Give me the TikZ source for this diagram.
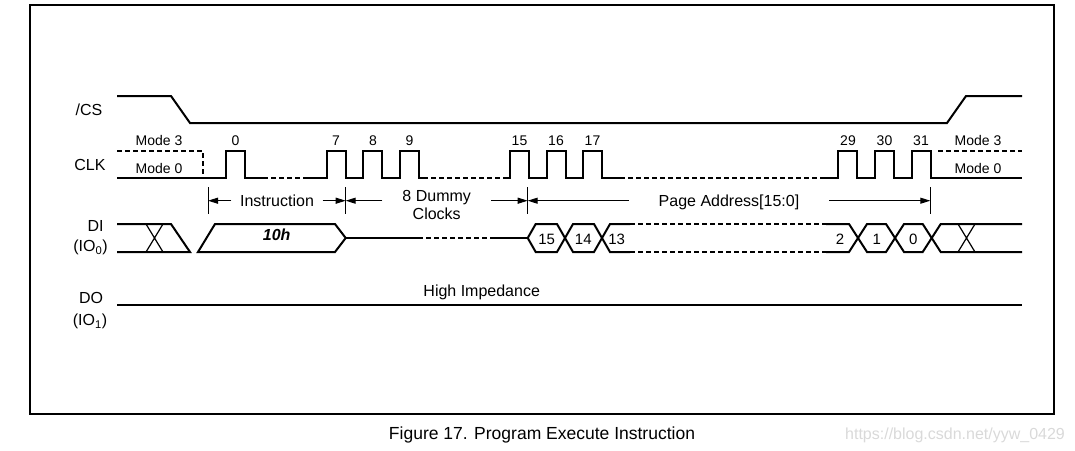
\documentclass[tikz,border=0pt]{standalone}
\usepackage{fontspec}
\setmainfont{Liberation Sans}
\usetikzlibrary{arrows.meta}

\begin{document}
\begin{tikzpicture}[
        x=1pt, y=-1pt,
        sig/.style={line width=2pt},
        dsig/.style={sig, dash pattern=on 5pt off 3pt},
        xline/.style={line width=1.2pt},
        dim/.style={line width=1pt, ->},
        tick/.style={line width=1pt},
        lbl/.style={font=\fontsize{16}{19}\selectfont},
        mode/.style={font=\fontsize{14}{16}\selectfont, anchor=base},
        num/.style={font=\fontsize{14}{16}\selectfont, anchor=base},
        busnum/.style={font=\fontsize{15}{17}\selectfont, anchor=base},
        >={Triangle[length=10pt,width=6pt]},
      ]
        \useasboundingbox (0,0) rectangle (1075,450);
        \draw[line width=2.4pt] (30,5) rectangle (1054,414);

        \node[lbl, anchor=base] (cs)    at (89,115)    {/CS};
        \node[lbl, anchor=base] (clk)   at (90,170.7)  {CLK};
        \node[lbl, anchor=base] (di)    at (95.5,231.7) {DI};
        \node[lbl, anchor=base] (dinum) at (90.5,251.5) {(IO\textsubscript{0})};
        \node[lbl, anchor=base] (do)    at (91,303.3)  {DO};
        \node[lbl, anchor=base] (donum) at (90,325.5)  {(IO\textsubscript{1})};

        \node[mode] (modeA) at (159,145)   {Mode 3};
        \node[mode] (modeB) at (159,173.3) {Mode 0};
        \node[mode] (modeC) at (978,145)   {Mode 3};
        \node[mode] (modeD) at (978,173.3) {Mode 0};

        \foreach \x/\n in {235.5/0, 336/7, 373/8, 409.5/9, 519.5/15, 556/16, 592.5/17, 848/29, 884.5/30, 921/31}
          \node[num] (c\n) at (\x,145) {\n};

        % /CS
        \draw[sig] (117,96) -- (171,96) -- (190,123) -- (947,123) -- (966,96) -- (1022,96);

        % CLK
        \draw[dsig] (117,151) -- (203,151) -- (203,178);
        \draw[dsig] (938,151) -- (1022,151);
        \draw[sig] (117,178) foreach \x in {226} {-- (\x,178) -- ++(0,-27) -- ++(19,0) -- ++(0,27)} -- (263,178);
        \draw[sig] (308,178) foreach \x in {326.7,363.3,400} {-- (\x,178) -- ++(0,-27) -- ++(19,0) -- ++(0,27)} -- (423,178);
        \draw[sig] (506,178) foreach \x in {510,546.5,583} {-- (\x,178) -- ++(0,-27) -- ++(19,0) -- ++(0,27)} -- (620,178);
        \draw[sig] (822,178) foreach \x in {838.3,875,911.7} {-- (\x,178) -- ++(0,-27) -- ++(19,0) -- ++(0,27)} -- (1022,178);
        \draw[dsig] (263,178) -- (308,178) (423,178) -- (506,178) (620,178) -- (822,178);

        % timing marks
        \coordinate (t1) at (208,200.7);
        \coordinate (t2) at (345.7,200.7);
        \coordinate (t3) at (527.7,200.7);
        \coordinate (t4) at (930.3,200.7);
        \foreach \t in {t1,t2,t3,t4}
          \draw[tick] (\t) ++(0,-13.5) -- ++(0,27);

        \node[lbl, anchor=base, inner xsep=8.5pt] (instr) at (277,206) {Instruction};
        \node[lbl, align=center, inner xsep=20pt, font=\fontsize{16}{17.6}\selectfont] (dummy) at (436.7,204.7) {8 Dummy\\Clocks};
        \node[lbl, anchor=base, inner xsep=30pt] (page) at (729,206.7) {Page Address[15:0]};

        \draw[dim] (instr.west |- t1) -- (t1);
        \draw[dim] (instr.east |- t2) -- (t2);
        \draw[dim] (dummy.west |- t2) -- (t2);
        \draw[dim] (dummy.east |- t3) -- (t3);
        \draw[dim] (page.west |- t3)  -- (t3);
        \draw[dim] (page.east |- t4)  -- (t4);

        % DI
        \draw[sig] (117,224) -- (171,224) -- (190,252) -- (117,252);
        \draw[xline] (146,224) -- (163,252) (146,252) -- (163,224);
        \draw[sig] (198,252) -- (215,224) -- (335,224) -- (345.7,238) -- (335,252) -- cycle;
        \node[font=\bfseries\itshape\fontsize{16}{19}\selectfont, anchor=base] (op) at (276.7,240) {10h};
        \draw[sig] (345.7,238) -- (418,238) (492,238) -- (527.7,238);
        \draw[dsig] (418,238) -- (492,238);
        \draw[sig] (527.7,238) -- (535.7,224) -- (557,224) -- (573,252) -- (594,252) -- (610,224) -- (630,224);
        \draw[sig] (527.7,238) -- (535.7,252) -- (557,252) -- (573,224) -- (594,224) -- (610,252) -- (630,252);
        \draw[dsig] (630,224) -- (826,224) (630,252) -- (826,252);
        \draw[sig] (826,224) -- (849,224) -- (867,252) -- (886,252) -- (904,224) -- (922.7,224) -- (940.7,252) -- (1022,252);
        \draw[sig] (826,252) -- (849,252) -- (867,224) -- (886,224) -- (904,252) -- (922.7,252) -- (940.7,224) -- (1022,224);
        \draw[xline] (958,224) -- (975,252) (958,252) -- (975,224);
        \foreach \x/\n in {546.7/15, 583.3/14, 616.7/13, 840/2, 876.7/1, 913.3/0}
          \node[busnum] (b\n) at (\x,244.3) {\n};

        % DO
        \draw[sig] (117,305) -- (1022,305);
        \node[lbl, anchor=base] (hiz) at (481.7,296.7) {High Impedance};

        \node[font=\fontsize{17.5}{20}\selectfont, anchor=base] (caption) at (542,439.5) {Figure 17. Program Execute Instruction};
        \node[font=\fontsize{16}{19}\selectfont, anchor=base, text=gray!30] (mark) at (955,439.5) {https://blog.csdn.net/yyw\_0429};
      \end{tikzpicture}
\end{document}
